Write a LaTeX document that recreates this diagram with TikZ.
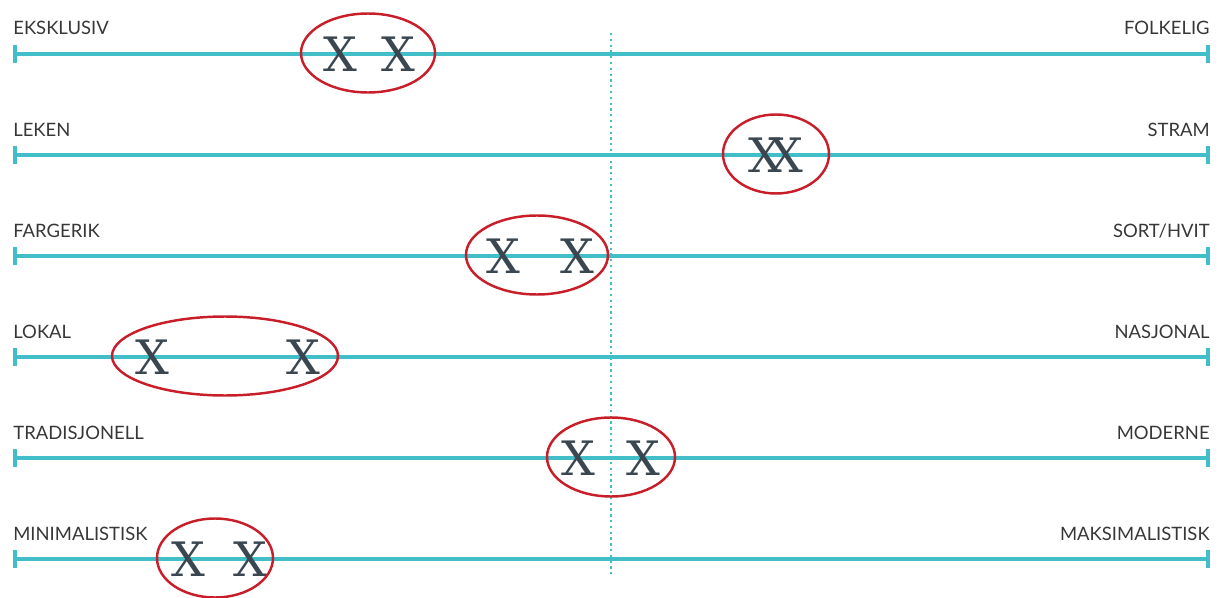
\documentclass[tikz,border=0pt]{standalone}
\usepackage{fontspec}
\setmainfont{DejaVu Serif}
\newfontfamily\labelfont{Lato}
\usetikzlibrary{shapes.geometric, arrows.meta}
\definecolor{ScaleTeal}{RGB}{66, 190, 200}
\definecolor{RingRed}{RGB}{200, 30, 42}
\definecolor{MarkSlate}{RGB}{58, 70, 80}
\definecolor{LabelGray}{RGB}{55, 55, 55}

\begin{document}
\begin{tikzpicture}[x=0.02cm, y=-0.02cm,
    scaleline/.style={ScaleTeal, line width=2pt, {Bar[width=10pt, line width=2pt]}-{Bar[width=10pt, line width=2pt]}},
    endlabel/.style={font=\labelfont\fontsize{10.5}{12}\selectfont, text=LabelGray, inner sep=0pt},
    xmark/.style={font=\fontsize{27}{27}\selectfont, text=MarkSlate, inner sep=0pt},
    ring/.style={ellipse, draw=RingRed, line width=1.4pt, inner sep=0pt}]
    \useasboundingbox (0,0) rectangle (1221,598);

    % Centre line of the scales
    \coordinate (top) at (611,33);
    \coordinate (bot) at (611,578);
    \draw[ScaleTeal, line width=1.3pt, dotted] (top) -- (bot);

    % Six scales, each with a word at either end
    \foreach \y/\lft/\rgt/\n in {54/EKSKLUSIV/FOLKELIG/a, 155/LEKEN/STRAM/b,
        256/FARGERIK/SORT\slash HVIT/c, 357/LOKAL/NASJONAL/d,
        458/TRADISJONELL/MODERNE/e, 559/MINIMALISTISK/MAKSIMALISTISK/f} {
        \coordinate (l\n) at (13,\y);
        \coordinate (r\n) at (1210,\y);
        \draw[scaleline] (l\n) -- (r\n);
        \node[endlabel, anchor=base west] (tl\n) at (13,\y-19) {\lft};
        \node[endlabel, anchor=base east] (tr\n) at (1210,\y-19) {\rgt};
    }

    % The two marks on each scale and the ring round them
    \foreach \n/\y/\cx/\rx/\xa/\xb in {a/54/368/67/340/398, b/155/776/53/765/786,
        c/256/537/71/503/577, d/357/225/113/152/303,
        e/458/611/64/578/643, f/559/215/58/188/250} {
        \node[xmark] (m\n1) at (\xa,\y) {X};
        \node[xmark] (m\n2) at (\xb,\y) {X};
        \node[ring, minimum width=2*\rx*0.02cm, minimum height=1.58cm] (o\n) at (\cx,\y-1) {};
    }
\end{tikzpicture}
\end{document}
